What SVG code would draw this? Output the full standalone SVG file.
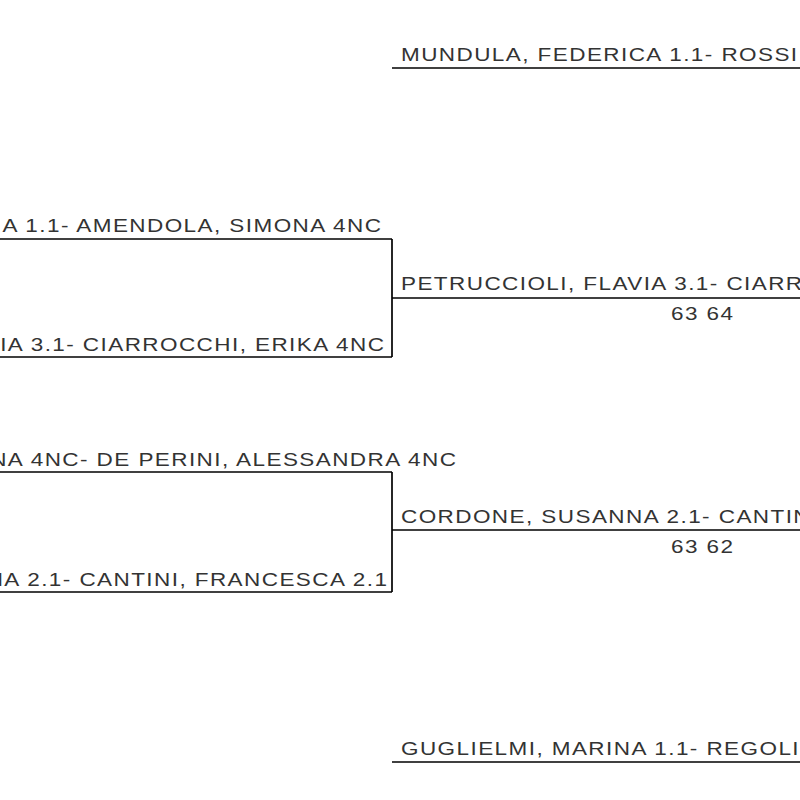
<svg xmlns="http://www.w3.org/2000/svg" width="800" height="800" viewBox="0 0 800 800">
<style>
text{font-family:"Liberation Sans",Arial,sans-serif;font-size:18px;letter-spacing:1.15px;fill:#333}
.e{text-anchor:end}
line{stroke:#000;stroke-width:1.7;fill:none}
</style>
<rect width="800" height="800" fill="#fff"/>
<g id="connectors">
<line x1="392" y1="68" x2="800" y2="68"/>
<line x1="0" y1="239" x2="392" y2="239"/>
<line x1="0" y1="357" x2="392" y2="357"/>
<line x1="392" y1="239" x2="392" y2="357"/>
<line x1="392" y1="298" x2="800" y2="298"/>
<line x1="0" y1="472" x2="392" y2="472"/>
<line x1="0" y1="592" x2="392" y2="592"/>
<line x1="392" y1="472" x2="392" y2="592"/>
<line x1="392" y1="530" x2="800" y2="530"/>
<line x1="392" y1="762" x2="800" y2="762"/>
</g>
<g id="node-mundula"><text transform="translate(401,61) scale(1.25,1)">MUNDULA, FEDERICA 1.1- ROSSI</text></g>
<g id="node-amendola"><text class="e" transform="translate(382.4,232) scale(1.25,1)">A 1.1- AMENDOLA, SIMONA 4NC</text></g>
<g id="node-ciarrocchi"><text class="e" transform="translate(385.4,351) scale(1.25,1)">IA 3.1- CIARROCCHI, ERIKA 4NC</text></g>
<g id="node-petruccioli"><text transform="translate(401,290) scale(1.25,1)">PETRUCCIOLI, FLAVIA 3.1- CIARRO</text><text transform="translate(671,320) scale(1.25,1)">63 64</text></g>
<g id="node-deperini"><text class="e" transform="translate(457.4,466) scale(1.25,1)">NA 4NC- DE PERINI, ALESSANDRA 4NC</text></g>
<g id="node-cantini"><text class="e" transform="translate(388.4,586) scale(1.25,1)">NA 2.1- CANTINI, FRANCESCA 2.1</text></g>
<g id="node-cordone"><text transform="translate(401,523) scale(1.25,1)">CORDONE, SUSANNA 2.1- CANTINI</text><text transform="translate(671,553) scale(1.25,1)">63 62</text></g>
<g id="node-guglielmi"><text transform="translate(401,755) scale(1.25,1)">GUGLIELMI, MARINA 1.1- REGOLI,</text></g>
</svg>
